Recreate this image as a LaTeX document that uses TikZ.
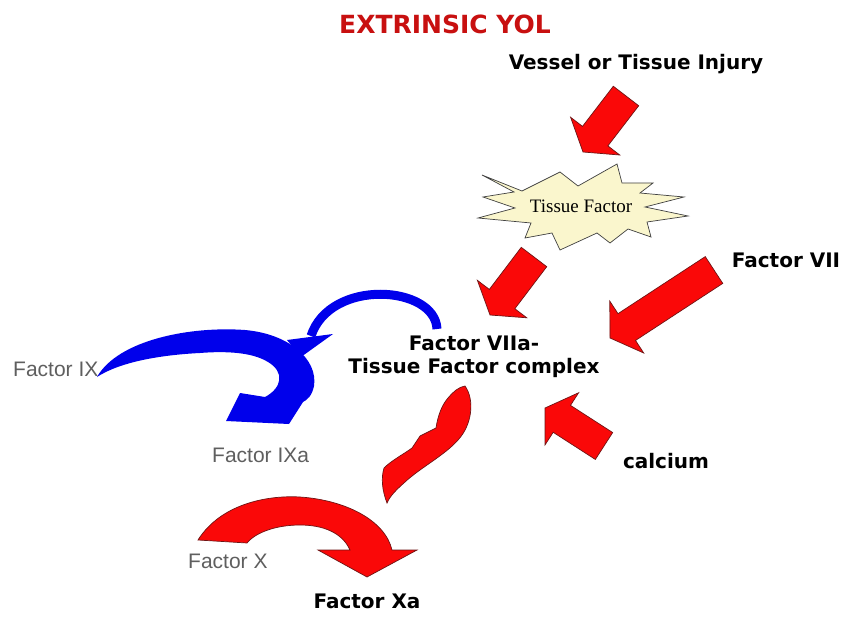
\documentclass[tikz,border=0pt]{standalone}
\usepackage{fontspec}
\setmainfont{DejaVu Sans}
\newfontfamily\arialfont{Liberation Sans}
\newfontfamily\timesfont{Liberation Serif}
\usepackage{tikz}
\usetikzlibrary{calc}

\definecolor{titlered}{RGB}{200,16,16}
\definecolor{arrowred}{RGB}{250,8,8}
\definecolor{arrowedge}{RGB}{110,20,20}
\definecolor{arrowblue}{RGB}{0,0,235}
\definecolor{labelgray}{RGB}{95,95,95}
\definecolor{starfill}{RGB}{250,246,205}

\tikzset{
  boldlabel/.style={font=\fontsize{20}{23}\selectfont\bfseries, inner sep=0pt},
  thinlabel/.style={font=\arialfont\fontsize{21}{24}\selectfont, text=labelgray, inner sep=0pt},
  redarrow/.style={fill=arrowred, draw=arrowedge, line width=0.7pt, line join=miter},
  bluearrow/.style={fill=arrowblue},
}

% straight block arrow: tail, tip
\newcommand{\blockarrow}[2]{%
  \path ($(#2)!20pt!(#1)$) coordinate (hb);
  \filldraw[redarrow] ($(#1)!16pt!90:(#2)$) -- ($(hb)!16pt!90:(#2)$) -- ($(hb)!31pt!90:(#2)$)
    -- (#2) -- ($(hb)!31pt!-90:(#2)$) -- ($(hb)!16pt!-90:(#2)$) -- ($(#1)!16pt!-90:(#2)$) -- cycle;
}

\begin{document}
\begin{tikzpicture}[x=1pt,y=-1pt]
\useasboundingbox (0,0) rectangle (845,617);
\fill[white] (0,0) rectangle (845,617);

% tissue factor burst
\filldraw[fill=starfill, draw=black!75, line width=0.7pt]
  (482,175) -- (522,191) -- (560,172) -- (578,186) -- (617,164) -- (622,183)
  -- (653,183) -- (640,193) -- (684,197) -- (645,207) -- (688,216) -- (647,222)
  -- (651,237) -- (628,229) -- (610,243) -- (597,233) -- (560,250) -- (552,233)
  -- (525,238) -- (531,223) -- (478,218) -- (515,208) -- (483,197) -- (514,192) -- cycle;
\node[font=\timesfont\fontsize{19}{22}\selectfont, inner sep=0pt, anchor=base] (tf) at (581,213) {Tissue Factor};

% straight arrows
\coordinate (injTail) at (626,96);   \coordinate (injTip) at (583,152);
\coordinate (tfTail)  at (534,257);  \coordinate (tfTip)  at (490,315);
\coordinate (f7Tail)  at (714,270);  \coordinate (f7Tip)  at (610,338);
\coordinate (caTail)  at (604,446);  \coordinate (caTip)  at (545,408);
\foreach \a in {inj, tf, f7, ca} {
  \blockarrow{\a Tail}{\a Tip}
}

% curved arrow down to factor X
\filldraw[redarrow] (465,386) .. controls (475,400) and (472,425) .. (458,440)
  .. controls (445,455) and (420,468) .. (405,482) .. controls (396,490) and (390,496) .. (387,503)
  .. controls (382,490) and (381,478) .. (384,468) .. controls (392,460) and (404,454) .. (412,448)
  -- (420,436) -- (436,428) .. controls (438,415) and (442,405) .. (448,398)
  .. controls (454,391) and (459,387) .. (465,386) -- cycle;

% factor X -> Xa
\filldraw[redarrow] (198,540) .. controls (220,505) and (265,495) .. (300,497)
  .. controls (345,500) and (385,520) .. (392,550) -- (417,550) -- (367,577) -- (318,550)
  -- (350,550) .. controls (342,532) and (322,525) .. (300,525)
  .. controls (275,525) and (255,533) .. (247,543) -- cycle;

% factor IX -> IXa
\fill[bluearrow] (97,377) .. controls (118,340) and (190,326) .. (245,330)
  .. controls (290,334) and (318,360) .. (314,386) .. controls (312,396) and (307,400) .. (303,402)
  -- (289,424) -- (226,421) -- (240,393) -- (265,397)
  .. controls (282,388) and (285,372) .. (268,362) .. controls (252,352) and (225,351) .. (200,353)
  .. controls (160,355) and (120,362) .. (97,377) -- cycle;

% complex -> factor IX
\draw[arrowblue, line width=9pt] (437,329) .. controls (435,285) and (330,278) .. (311,336);
\fill[bluearrow] (287,340) -- (333,334) -- (301,357) -- cycle;

% labels
\node[font=\fontsize{25}{28}\selectfont\bfseries, text=titlered, inner sep=0pt, anchor=base] (title) at (445,34) {EXTRINSIC YOL};
\node[boldlabel, anchor=base] (injury) at (636,70) {Vessel or Tissue Injury};
\node[boldlabel, anchor=base] (f7) at (786,268) {Factor VII};
\node[boldlabel, align=center] (complex) at (474,357) {Factor VIIa-\\Tissue Factor complex};
\node[boldlabel, anchor=base] (ca) at (666,468) {calcium};
\node[boldlabel, anchor=base] (f10a) at (367,608) {Factor Xa};
\node[thinlabel, anchor=base west] (f9) at (13,376) {Factor IX};
\node[thinlabel, anchor=base west] (f9a) at (212,462) {Factor IXa};
\node[thinlabel, anchor=base west] (f10) at (188,568) {Factor X};
\end{tikzpicture}
\end{document}
